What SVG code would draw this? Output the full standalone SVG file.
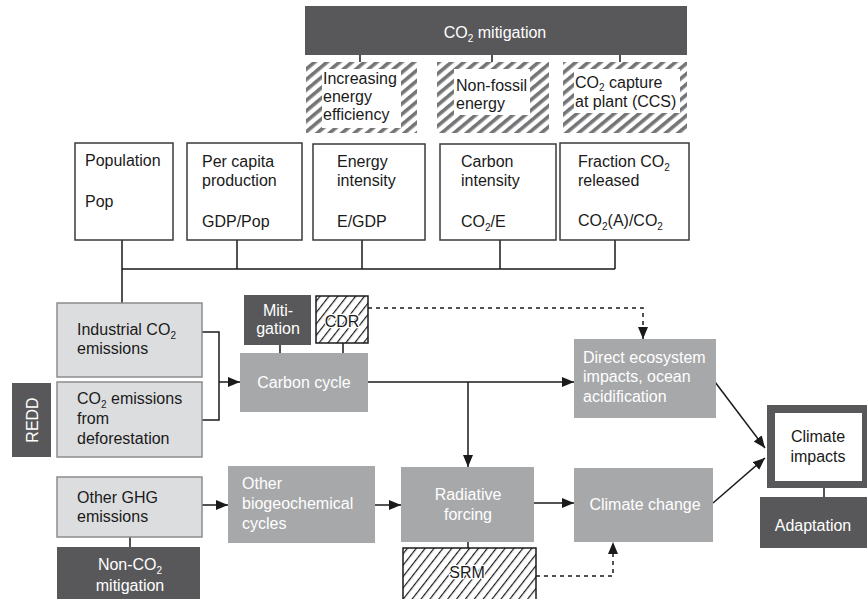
<svg xmlns="http://www.w3.org/2000/svg" width="867" height="599" viewBox="0 0 867 599">
<defs>
<style>
text{font-family:"Liberation Sans",Arial,sans-serif;font-size:16px;fill:#1a1a1a}
.w{fill:#ffffff}
.c{text-anchor:middle}
.s{font-size:10px}
.dark{fill:#58585a}
.mid{fill:#a7a8aa}
.light{fill:#dcdddf;stroke:#8c8c8e;stroke-width:1.5}
.white{fill:#ffffff;stroke:#3a3a3a;stroke-width:1.5}
.ghat{fill:url(#gh)}
.bhat{fill:url(#bh);stroke:#1a1a1a;stroke-width:1.5}
.ln{fill:none;stroke:#1a1a1a;stroke-width:1.5}
.ar{marker-end:url(#ah)}
.ds{stroke-dasharray:4 4}
.halo{stroke:#ffffff;stroke-width:2.5;paint-order:stroke}
</style>
<pattern id="gh" patternUnits="userSpaceOnUse" width="8" height="8" patternTransform="rotate(50)">
<rect width="8" height="8" fill="#ffffff"/>
<rect width="3.6" height="8" fill="#747577"/>
</pattern>
<pattern id="bh" patternUnits="userSpaceOnUse" width="7" height="7" patternTransform="rotate(38)">
<rect width="7" height="7" fill="#ffffff"/>
<rect width="1.2" height="7" fill="#1a1a1a"/>
</pattern>
<marker id="ah" markerUnits="userSpaceOnUse" markerWidth="13" markerHeight="11" refX="12" refY="5" orient="auto">
<path d="M0,0 L12,5 L0,10 z" fill="#1a1a1a"/>
</marker>
</defs>

<g id="connectors">
<path class="ln" d="M360,55 V62 M492,55 V62 M620,55 V62"/>
<path class="ln" d="M122,240 V303 M122,269 H615 M237,240 V269 M362,240 V269 M500,240 V269 M615,240 V269"/>
<path class="ln" d="M202,332 H219 V420 H202"/>
<path class="ln ar" d="M219,382 H240"/>
<path class="ln" d="M280,345 V353 M343,343 V353"/>
<path class="ln ds ar" d="M368,308 H643 V339"/>
<path class="ln ar" d="M368,382 H574"/>
<path class="ln ar" d="M468,382 V467"/>
<path class="ln" d="M130,537 V547"/>
<path class="ln ar" d="M202,505 H228"/>
<path class="ln ar" d="M375,505 H401"/>
<path class="ln" d="M468,542 V548"/>
<path class="ln ar" d="M534,503 H574"/>
<path class="ln ds ar" d="M536,576 H613 V542"/>
<path class="ln ar" d="M713,503 L765,458"/>
<path class="ln ar" d="M715,382 L765,448"/>
<path class="ln" d="M824,488 V497"/>
</g>

<g id="co2-mitigation">
<rect class="dark" x="305" y="6" width="382" height="49"/>
<text class="w c" x="495" y="38">CO<tspan class="s" dy="4">2</tspan><tspan dy="-4"> mitigation</tspan></text>
</g>
<g id="energy-efficiency">
<rect class="ghat" x="306" y="62" width="111" height="71"/>
<rect fill="#ffffff" x="322" y="69" width="79" height="59"/>
<text x="323" y="84">Increasing</text>
<text x="323" y="102">energy</text>
<text x="323" y="120">efficiency</text>
</g>
<g id="non-fossil">
<rect class="ghat" x="437" y="62" width="112" height="71"/>
<rect fill="#ffffff" x="454" y="69" width="76" height="46"/>
<text x="456" y="91">Non-fossil</text>
<text x="456" y="109">energy</text>
</g>
<g id="ccs">
<rect class="ghat" x="563" y="62" width="124" height="71"/>
<rect fill="#ffffff" x="574" y="69" width="106" height="44"/>
<text x="575" y="88">CO<tspan class="s" dy="3">2</tspan><tspan dy="-3"> capture</tspan></text>
<text x="575" y="107">at plant (CCS)</text>
</g>

<g id="population">
<rect class="white" x="75" y="143" width="98" height="97"/>
<text x="85" y="166">Population</text>
<text x="85" y="207">Pop</text>
</g>
<g id="per-capita">
<rect class="white" x="187" y="143" width="115" height="97"/>
<text x="202" y="167">Per capita</text>
<text x="202" y="186">production</text>
<text x="202" y="227">GDP/Pop</text>
</g>
<g id="energy-intensity">
<rect class="white" x="313" y="144" width="112" height="96"/>
<text x="337" y="167">Energy</text>
<text x="337" y="186">intensity</text>
<text x="337" y="227">E/GDP</text>
</g>
<g id="carbon-intensity">
<rect class="white" x="440" y="144" width="116" height="96"/>
<text x="461" y="167">Carbon</text>
<text x="461" y="186">intensity</text>
<text x="461" y="227">CO<tspan class="s" dy="4">2</tspan><tspan dy="-4">/E</tspan></text>
</g>
<g id="fraction-released">
<rect class="white" x="560" y="143" width="129" height="97"/>
<text x="578" y="167">Fraction CO<tspan class="s" dy="4">2</tspan></text>
<text x="578" y="186">released</text>
<text x="578" y="226">CO<tspan class="s" dy="4">2</tspan><tspan dy="-4">(A)/CO</tspan><tspan class="s" dy="4">2</tspan></text>
</g>

<g id="industrial-emissions">
<rect class="light" x="57" y="303" width="145" height="74"/>
<text x="77" y="335">Industrial CO<tspan class="s" dy="4">2</tspan></text>
<text x="77" y="354">emissions</text>
</g>
<g id="deforestation-emissions">
<rect class="light" x="57" y="382" width="145" height="75"/>
<text x="77" y="404">CO<tspan class="s" dy="4">2</tspan><tspan dy="-4"> emissions</tspan></text>
<text x="77" y="424">from</text>
<text x="77" y="444">deforestation</text>
</g>
<g id="redd">
<rect class="dark" x="12" y="383" width="39" height="74"/>
<text class="w c" transform="translate(38,420) rotate(-90)" x="0" y="0">REDD</text>
</g>
<g id="mitigation">
<rect class="dark" x="244" y="295" width="67" height="50"/>
<text class="w c" x="278" y="316">Miti-</text>
<text class="w c" x="278" y="334">gation</text>
</g>
<g id="cdr">
<rect class="bhat" x="316" y="296" width="52" height="47"/>
<text class="c halo" x="342" y="327">CDR</text>
</g>
<g id="carbon-cycle">
<rect class="mid" x="240" y="353" width="128" height="59"/>
<text class="w c" x="304" y="388">Carbon cycle</text>
</g>
<g id="direct-impacts">
<rect class="mid" x="574" y="339" width="142" height="79"/>
<text class="w" x="583" y="363">Direct ecosystem</text>
<text class="w" x="583" y="382">impacts, ocean</text>
<text class="w" x="583" y="402">acidification</text>
</g>
<g id="climate-impacts">
<rect class="dark" x="767" y="405" width="100" height="83"/>
<rect fill="#ffffff" x="775" y="413" width="87" height="68"/>
<text class="c" x="818" y="442">Climate</text>
<text class="c" x="818" y="462">impacts</text>
</g>
<g id="adaptation">
<rect class="dark" x="760" y="497" width="107" height="51"/>
<text class="w c" x="813" y="531">Adaptation</text>
</g>

<g id="other-ghg">
<rect class="light" x="57" y="477" width="145" height="60"/>
<text x="77" y="503">Other GHG</text>
<text x="77" y="522">emissions</text>
</g>
<g id="non-co2-mitigation">
<rect class="dark" x="57" y="547" width="143" height="52"/>
<text class="w c" x="130" y="570">Non-CO<tspan class="s" dy="4">2</tspan></text>
<text class="w c" x="130" y="591">mitigation</text>
</g>
<g id="biogeochemical">
<rect class="mid" x="228" y="466" width="147" height="77"/>
<text class="w" x="242" y="489">Other</text>
<text class="w" x="242" y="509">biogeochemical</text>
<text class="w" x="242" y="529">cycles</text>
</g>
<g id="radiative-forcing">
<rect class="mid" x="401" y="467" width="133" height="75"/>
<text class="w c" x="468" y="500">Radiative</text>
<text class="w c" x="468" y="520">forcing</text>
</g>
<g id="srm">
<rect class="bhat" x="403" y="548" width="133" height="55"/>
<text class="c halo" x="467" y="578">SRM</text>
</g>
<g id="climate-change">
<rect class="mid" x="574" y="468" width="139" height="74"/>
<text class="w c" x="645" y="510">Climate change</text>
</g>
</svg>
